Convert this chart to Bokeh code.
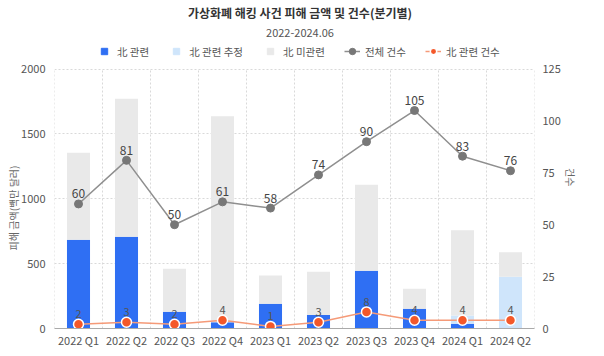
import math
import numpy as np
from bokeh.plotting import figure
from bokeh.models import (ColumnDataSource, Range1d, LinearAxis, FixedTicker,
                          Legend, LegendItem, Label)
from bokeh.embed import file_html
from bokeh.resources import INLINE
from bokeh.core.properties import value

# ---------------- data ----------------
quarters = ["2022 Q1", "2022 Q2", "2022 Q3", "2022 Q4", "2023 Q1",
            "2023 Q2", "2023 Q3", "2023 Q4", "2024 Q1", "2024 Q2"]
nk_amount = [684, 707, 129, 49, 190, 105, 445, 152, 36, 5]          # 北 관련
nk_est_amount = [0, 0, 0, 0, 0, 0, 0, 0, 64, 393]                   # 北 관련 추정
total_amount = [1354, 1770, 460, 1636, 408, 437, 1107, 306, 758, 588]
total_count = [60, 81, 50, 61, 58, 74, 90, 105, 83, 76]             # 전체 건수
nk_count = [2, 3, 2, 4, 1, 3, 8, 4, 4, 4]                           # 北 관련 건수
amount_ticks = [0, 500, 1000, 1500, 2000]
count_ticks = [0, 25, 50, 75, 100, 125]

FONT = "Noto Sans CJK KR"
BLUE = "#2f6ff3"
LIGHT_BLUE = "#cfe5fb"
GREY_BAR = "#e9e9e9"
GREY_LINE = "#8f8f8f"
GREY_DOT = "#777777"
ORANGE = "#f4582a"
ORANGE_LINE = "#f59a78"

# layout: the frame also holds the title block above the plotting area
FRAME_W, FRAME_H = 491, 321
PLOT_H = 259.5                     # pixels used by the 0..max-tick area
scale = FRAME_H / PLOT_H
PAD = "\u3000" * 8                 # keeps axis titles centred on the plotting area

n = len(quarters)
xs = np.arange(n) + 0.5
bounds = np.arange(n + 1)
non_amount = [t - a - b for t, a, b in zip(total_amount, nk_amount, nk_est_amount)]

src = ColumnDataSource(dict(
    x=xs, nk=nk_amount, est=nk_est_amount, non=non_amount,
    tc=total_count, nc=nk_count,
    tcl=[str(v) for v in total_count], ncl=[str(v) for v in nk_count],
))
grid_src = ColumnDataSource(dict(
    b=bounds, y0=[0] * (n + 1), y1=[max(amount_ticks)] * (n + 1)))

p = figure(width=54 + FRAME_W + 43, frame_height=FRAME_H, output_backend="svg",
           toolbar_location=None, title=None,
           x_range=Range1d(0, n), y_range=Range1d(0, max(amount_ticks) * scale),
           min_border_left=54, min_border_right=43, min_border_top=7,
           min_border_bottom=0, background_fill_color="white",
           border_fill_color="white")
p.outline_line_color = None
p.extra_y_ranges = {"cnt": Range1d(0, max(count_ticks) * scale)}

# vertical dotted grid at category boundaries (only over the plotting area)
p.segment(x0="b", y0="y0", x1="b", y1="y1", source=grid_src,
          line_color="#d9d9d9", line_dash="2 2", line_width=1)

# bars
bars = p.vbar_stack(["nk", "est", "non"], x="x", width=0.48,
                    color=[BLUE, LIGHT_BLUE, GREY_BAR], line_width=0, source=src)

# lines
tl = p.line("x", "tc", source=src, y_range_name="cnt", line_color=GREY_LINE, line_width=1.5)
ts = p.scatter("x", "tc", source=src, y_range_name="cnt", size=8, fill_color=GREY_DOT,
               line_color=GREY_DOT)
nl = p.line("x", "nc", source=src, y_range_name="cnt", line_color=ORANGE_LINE, line_width=1.5)
ns = p.scatter("x", "nc", source=src, y_range_name="cnt", size=10, fill_color=ORANGE,
               line_color="white", line_width=1.5)

p.text("x", "tc", text="tcl", source=src, y_range_name="cnt", y_offset=-10,
       text_align="center", text_baseline="middle", text_font=value(FONT),
       text_font_size="12px", text_color="#444444")
p.text("x", "nc", text="ncl", source=src, y_range_name="cnt", y_offset=-10,
       text_align="center", text_baseline="middle", text_font=value(FONT),
       text_font_size="11px", text_color="#555555")

# axes
p.xaxis.ticker = FixedTicker(ticks=list(xs))
p.xaxis.major_label_overrides = {float(x): q for x, q in zip(xs, quarters)}
p.yaxis.ticker = FixedTicker(ticks=amount_ticks)
p.yaxis.axis_label = "피해 금액(백만 달러)" + PAD

right = LinearAxis(y_range_name="cnt", ticker=FixedTicker(ticks=count_ticks),
                   axis_label="건수" + PAD)
p.add_layout(right, "right")

for ax in [p.xaxis[0], p.yaxis[0], right]:
    ax.major_tick_line_color = None
    ax.minor_tick_line_color = None
    ax.major_label_text_font = FONT
    ax.major_label_text_font_size = "11px"
    ax.major_label_text_color = "#555555"
    ax.axis_label_text_font = FONT
    ax.axis_label_text_font_size = "10px"
    ax.axis_label_text_font_style = "normal"
    ax.axis_label_text_color = "#666666"
p.yaxis[0].axis_line_color = None
right.axis_line_color = None
p.xaxis.axis_line_color = "#aaaaaa"
p.xaxis.major_label_standoff = -3
p.yaxis[0].major_label_standoff = 3
right.major_label_standoff = 2
p.yaxis[0].axis_label_standoff = -3
right.axis_label_standoff = 7
right.axis_label_orientation = -math.pi / 2

# grid
p.xgrid.visible = False
p.ygrid.ticker = FixedTicker(ticks=amount_ticks)
p.ygrid.grid_line_color = "#d9d9d9"
p.ygrid.grid_line_dash = "2 2"
p.ygrid.grid_line_width = 1

# legend proxies for the bar series (size 0: they only draw in the legend)
sq1 = p.scatter("x", "nk", source=src, marker="square", size=0, color=BLUE)
sq2 = p.scatter("x", "est", source=src, marker="square", size=0, color=LIGHT_BLUE)
sq3 = p.scatter("x", "non", source=src, marker="square", size=0, color=GREY_BAR)
legend = Legend(items=[
    LegendItem(label="北 관련", renderers=[sq1]),
    LegendItem(label="北 관련 추정", renderers=[sq2]),
    LegendItem(label="北 미관련", renderers=[sq3]),
    LegendItem(label="전체 건수", renderers=[tl, ts]),
    LegendItem(label="北 관련 건수", renderers=[nl, ns]),
], orientation="horizontal", location=(42, FRAME_H - 52), glyph_width=16, glyph_height=16,
    label_height=16, label_standoff=5, spacing=19, padding=0, margin=0,
    border_line_color=None, background_fill_alpha=0,
    label_text_font=FONT, label_text_font_size="10.5px", label_text_color="#555555")
p.add_layout(legend, "center")

# titles
p.add_layout(Label(x=FRAME_W / 2, y=FRAME_H - 5, x_units="screen", y_units="screen",
                   text="가상화폐 해킹 사건 피해 금액 및 건수(분기별)",
                   text_align="center", text_baseline="middle",
                   text_font=FONT, text_font_size="12px", text_font_style="bold",
                   text_color="#333333"))
p.add_layout(Label(x=FRAME_W / 2, y=FRAME_H - 25, x_units="screen", y_units="screen",
                   text="2022-2024.06", text_align="center", text_baseline="middle",
                   text_font=FONT, text_font_size="11px", text_color="#555555"))

open("out.html", "w").write(file_html(p, INLINE))
